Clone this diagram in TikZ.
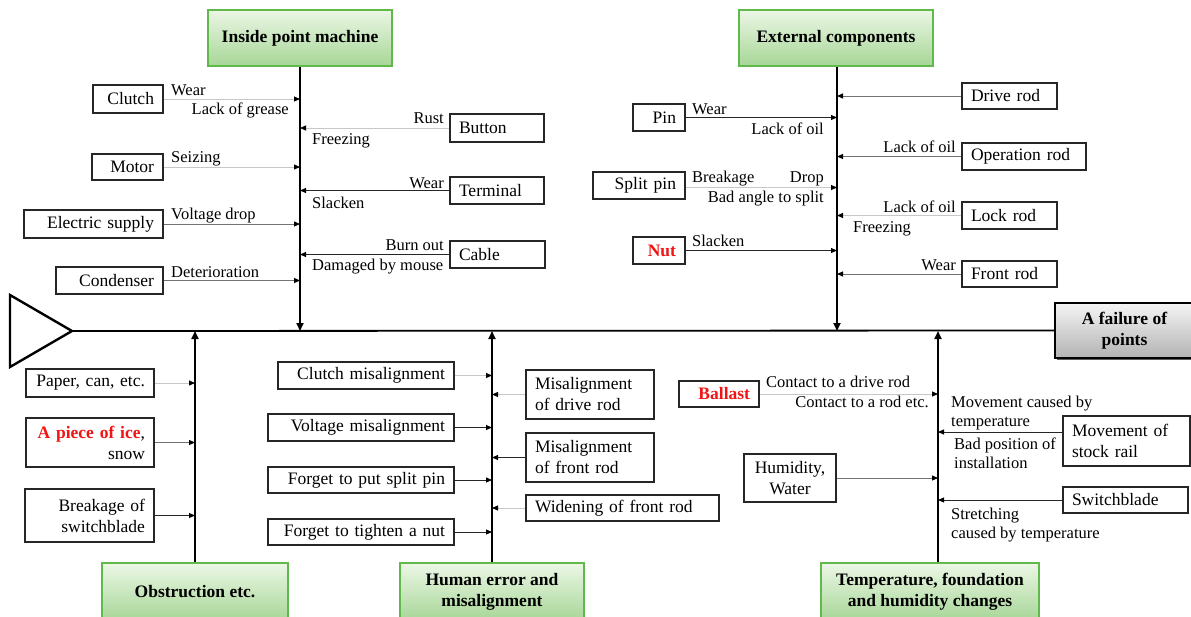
\documentclass[tikz,border=0pt]{standalone}
\usepackage{fontspec}
\setmainfont{Liberation Serif}
\usetikzlibrary{arrows.meta,shadows}

\definecolor{hdrborder}{RGB}{95,185,75}
\definecolor{hdrtop}{RGB}{236,247,230}
\definecolor{hdrbot}{RGB}{166,214,150}
\definecolor{alertred}{RGB}{240,20,20}

\tikzset{
  cbox/.style={draw=black!85, line width=1.1pt, fill=white, inner xsep=9pt, inner ysep=0pt,
    font=\fontsize{17.5}{21}\selectfont},
  hdr/.style={draw=hdrborder, line width=1.5pt, top color=hdrtop, bottom color=hdrbot,
    align=center, font=\fontsize{17.5}{21}\selectfont\bfseries},
  lbl/.style={inner sep=0pt, font=\fontsize{16.5}{18.5}\selectfont},
  spine/.style={line width=1.8pt, black},
  sub/.style={line width=1.8pt, black, -{Triangle[length=8pt,width=7pt]}},
  lightln/.style={line width=0.9pt, black!22, -{Triangle[length=6pt,width=5pt,color=black]}},
  midln/.style={line width=0.9pt, black!55, -{Triangle[length=6pt,width=5pt,color=black]}},
  darkln/.style={line width=0.9pt, black!85, -{Triangle[length=6pt,width=5pt,color=black]}},
}

% box with corners (x1,y1)-(x2,y2) in picture units, text aligned as given
\newcommand\causebox[7]{%
  \pgfmathsetmacro\cbw{#4-#2}%
  \pgfmathsetmacro\cbh{#5-#3}%
  \pgfmathsetmacro\cbt{#4-#2-18}%
  \node[cbox, minimum width=\cbw pt, minimum height=\cbh pt, text width=\cbt pt, align=#6]
    (#1) at ({(#2+#4)/2},{(#3+#5)/2}) {#7};}
\newcommand\hdrbox[6]{%
  \pgfmathsetmacro\cbw{#4-#2}%
  \pgfmathsetmacro\cbh{#5-#3}%
  \node[hdr, minimum width=\cbw pt, minimum height=\cbh pt] (#1) at ({(#2+#4)/2},{(#3+#5)/2}) {#6};}

\begin{document}
\begin{tikzpicture}[x=1pt, y=-1pt]
\useasboundingbox (0,0) rectangle (1191,616);

% ---------- effect box and fish head ----------
\node[draw=black, line width=1.3pt, top color=gray!8, bottom color=gray!60,
      drop shadow={shadow xshift=2pt, shadow yshift=-2pt, fill=black!80, opacity=0.8},
      minimum width=139pt, minimum height=55pt, align=center,
      font=\fontsize{17.5}{21}\selectfont\bfseries] (failure) at (1124.5,330.5) {A failure of\\points};
\draw[line width=2.4pt, line join=miter] (10,295) -- (72,331) -- (10,367) -- cycle;
\coordinate (head) at (72,331);
\draw[spine] (head) -- (failure.west);

% junctions of the category bones on the main spine
\coordinate (j1) at (300,331);
\coordinate (j2) at (837,331);
\coordinate (j3) at (195,331);
\coordinate (j4) at (492,331);
\coordinate (j5) at (938,331);

% ---------- category boxes ----------
\hdrbox{inside}{208}{10}{392}{66}{Inside point machine}
\hdrbox{external}{739}{10}{933}{66}{External components}
\hdrbox{obstruction}{102}{563}{288}{621}{Obstruction etc.}
\hdrbox{human}{400}{563}{584}{621}{Human error and\\misalignment}
\hdrbox{temp}{821}{563}{1039}{621}{Temperature, foundation\\and humidity changes}

\draw[sub] (inside.south -| j1) -- (j1);
\draw[sub] (external.south -| j2) -- (j2);
\draw[sub] (obstruction.north -| j3) -- (j3);
\draw[sub] (human.north -| j4) -- (j4);
\draw[sub] (temp.north -| j5) -- (j5);

% ---------- inside point machine ----------
\causebox{clutch}{93}{85}{163}{113}{right}{Clutch}
\causebox{motor}{92}{154}{163}{180}{right}{Motor}
\causebox{elec}{24}{210}{163}{238}{right}{Electric supply}
\causebox{cond}{56}{267}{163}{294}{right}{Condenser}
\causebox{button}{450}{114}{544}{142}{left}{Button}
\causebox{terminal}{450}{177}{544}{204}{left}{Terminal}
\causebox{cable}{450}{241}{545}{268}{left}{Cable}

\draw[lightln] (clutch.east) -- (clutch.east -| j1);
\draw[lightln] (motor.east) -- (motor.east -| j1);
\draw[midln] (elec.east) -- (elec.east -| j1);
\draw[midln] (cond.east) -- (cond.east -| j1);
\draw[lightln] (button.west) -- (button.west -| j1);
\draw[darkln] (terminal.west) -- (terminal.west -| j1);
\draw[darkln] (cable.west) -- (cable.west -| j1);

\node[lbl, anchor=base west] (l1) at (171,95) {Wear};
\node[lbl, anchor=base east] (l2) at (289,114) {Lack of grease};
\node[lbl, anchor=base east] (l3) at (444,123) {Rust};
\node[lbl, anchor=base west] (l4) at (312,144) {Freezing};
\node[lbl, anchor=base west] (l5) at (171,162) {Seizing};
\node[lbl, anchor=base east] (l6) at (444,188) {Wear};
\node[lbl, anchor=base west] (l7) at (312,208) {Slacken};
\node[lbl, anchor=base west] (l8) at (171,219) {Voltage drop};
\node[lbl, anchor=base east] (l9) at (444,250) {Burn out};
\node[lbl, anchor=base west] (l10) at (312,270) {Damaged by mouse};
\node[lbl, anchor=base west] (l11) at (171,277) {Deterioration};

% ---------- external components ----------
\causebox{pin}{633}{104}{685}{131}{right}{Pin}
\causebox{splitpin}{593}{172}{685}{199}{right}{Split pin}
\causebox{nut}{633}{237}{685}{264}{right}{\textcolor{alertred}{\bfseries Nut}}
\causebox{driverod}{962}{83}{1057}{109}{left}{Drive rod}
\causebox{oprod}{962}{143}{1086}{170}{left}{Operation rod}
\causebox{lockrod}{962}{202}{1057}{229}{left}{Lock rod}
\causebox{frontrod}{962}{261}{1057}{287}{left}{Front rod}

\draw[darkln] (pin.east) -- (pin.east -| j2);
\draw[lightln] ([yshift=-2pt]splitpin.east) -- ([yshift=-2pt]splitpin.east -| j2);
\draw[darkln] (nut.east) -- (nut.east -| j2);
\draw[midln] (driverod.west) -- (driverod.west -| j2);
\draw[midln] (oprod.west) -- (oprod.west -| j2);
\draw[lightln] (lockrod.west) -- (lockrod.west -| j2);
\draw[midln] (frontrod.west) -- (frontrod.west -| j2);

\node[lbl, anchor=base west] (l12) at (692,114) {Wear};
\node[lbl, anchor=base east] (l13) at (824,134) {Lack of oil};
\node[lbl, anchor=base east] (l14) at (956,152) {Lack of oil};
\node[lbl, anchor=base west] (l15) at (692,182) {Breakage};
\node[lbl, anchor=base east] (l16) at (824,182) {Drop};
\node[lbl, anchor=base east] (l17) at (824,202) {Bad angle to split};
\node[lbl, anchor=base east] (l18) at (956,212) {Lack of oil};
\node[lbl, anchor=base west] (l19) at (853,232) {Freezing};
\node[lbl, anchor=base west] (l20) at (692,246) {Slacken};
\node[lbl, anchor=base east] (l21) at (956,270) {Wear};

% ---------- obstruction ----------
\causebox{paper}{26}{369}{154}{397}{right}{Paper, can, etc.}
\causebox{ice}{26}{418}{154}{467}{right}{\textcolor{alertred}{\bfseries A piece of ice},\\snow}
\causebox{breakage}{25}{489}{154}{542}{right}{Breakage of\\switchblade}

\draw[lightln] (paper.east) -- (paper.east -| j3);
\draw[midln] (ice.east) -- (ice.east -| j3);
\draw[darkln] (breakage.east) -- (breakage.east -| j3);

% ---------- human error ----------
\causebox{clutchmis}{278}{362}{454}{389}{right}{Clutch misalignment}
\causebox{voltmis}{268}{414}{454}{441}{right}{Voltage misalignment}
\causebox{splitmis}{268}{467}{454}{493}{right}{Forget to put split pin}
\causebox{nutmis}{268}{519}{454}{545}{right}{Forget to tighten a nut}
\causebox{drivemis}{526}{370}{654}{419}{left}{Misalignment\\of drive rod}
\causebox{frontmis}{526}{433}{654}{482}{left}{Misalignment\\of front rod}
\causebox{widening}{526}{495}{719}{521}{left}{Widening of front rod}

\draw[lightln] (clutchmis.east) -- (clutchmis.east -| j4);
\draw[darkln] (voltmis.east) -- (voltmis.east -| j4);
\draw[darkln] (splitmis.east) -- (splitmis.east -| j4);
\draw[darkln] (nutmis.east) -- (nutmis.east -| j4);
\draw[lightln] (drivemis.west) -- (drivemis.west -| j4);
\draw[darkln] (frontmis.west) -- (frontmis.west -| j4);
\draw[lightln] (widening.west) -- (widening.west -| j4);

% ---------- temperature, foundation and humidity ----------
\causebox{ballast}{679}{381}{759}{407}{right}{\textcolor{alertred}{\bfseries Ballast}}
\causebox{humidity}{744}{454}{836}{502}{center}{Humidity,\\Water}
\causebox{stockrail}{1063}{416}{1190}{466}{left}{Movement of\\stock rail}
\causebox{switchblade}{1063}{487}{1188}{513}{left}{Switchblade}

\draw[lightln] (ballast.east) -- (ballast.east -| j5);
\draw[midln] (humidity.east) -- (humidity.east -| j5);
\draw[darkln] ([yshift=9pt]stockrail.west) -- ([yshift=9pt]stockrail.west -| j5);
\draw[darkln] (switchblade.west) -- (switchblade.west -| j5);

\node[lbl, anchor=base west] (l22) at (766,387) {Contact to a drive rod};
\node[lbl, anchor=base east] (l23) at (929,407) {Contact to a rod etc.};
\node[lbl, anchor=north west, align=left] (l24) at (951,396) {Movement caused by\\temperature};
\node[lbl, anchor=north west, align=left] (l25) at (954,438) {Bad position of\\installation};
\node[lbl, anchor=north west, align=left] (l26) at (951,508) {Stretching\\caused by temperature};

\end{tikzpicture}
\end{document}
